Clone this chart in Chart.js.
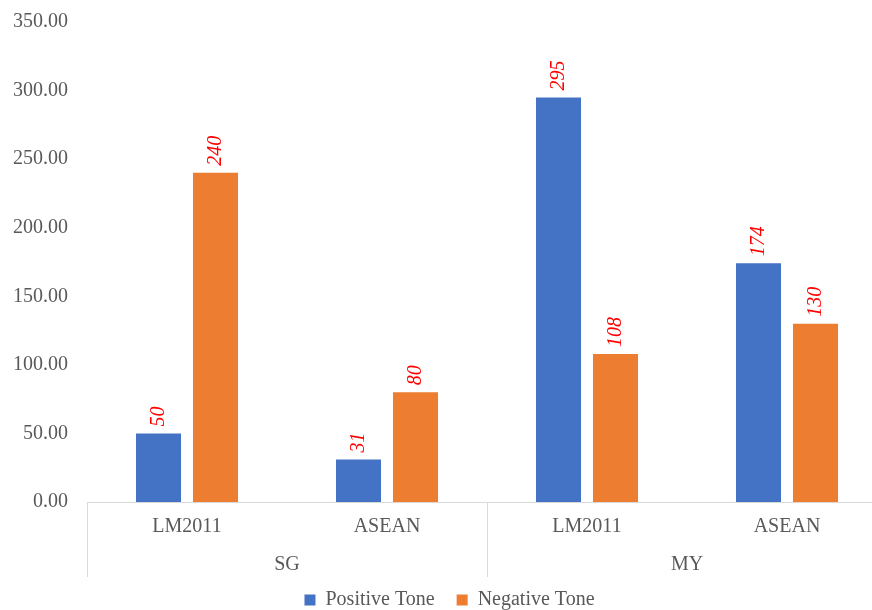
<!DOCTYPE html>
<html>
<head>
<meta charset="utf-8">
<script src="https://cdn.jsdelivr.net/npm/chart.js@4.4.1/dist/chart.umd.min.js"></script>
<style>
  html, body { margin: 0; padding: 0; background: #ffffff; overflow: hidden; }
  #wrap { width: 912px; height: 620px; position: relative; }
</style>
</head>
<body>
<div id="wrap"><canvas id="chart"></canvas></div>
<script>
// Sub-categories along the x axis, and the country groups they belong to
const categories = ['LM2011', 'ASEAN', 'LM2011', 'ASEAN'];
const groups = ['SG', 'MY'];
const groupSizes = [2, 2];

// Article counts by tone
const positiveTone = [50, 31, 295, 174];
const negativeTone = [240, 80, 108, 130];

// Y axis range
const yMin = 0;
const yMax = 350;
const yStep = 50;

const SERIF = '"Liberation Serif", "Times New Roman", serif';
const GREY = '#595959';
const LINE = '#d9d9d9';

// Rotated value labels above each bar
const valueLabels = {
  id: 'valueLabels',
  afterDatasetsDraw(chart) {
    const ctx = chart.ctx;
    ctx.save();
    ctx.fillStyle = '#ff0000';
    ctx.font = 'italic 20px ' + SERIF;
    ctx.textAlign = 'left';
    ctx.textBaseline = 'middle';
    chart.data.datasets.forEach((ds, di) => {
      const meta = chart.getDatasetMeta(di);
      meta.data.forEach((bar, i) => {
        ctx.save();
        ctx.translate(bar.x, bar.y - 7);
        ctx.rotate(-Math.PI / 2);
        ctx.fillText(String(ds.data[i]), 0, 0);
        ctx.restore();
      });
    });
    ctx.restore();
  }
};

// Separators between the country groups under the axis
const groupSeparators = {
  id: 'groupSeparators',
  afterDraw(chart) {
    const x = chart.scales.x;
    const g = chart.scales.x2;
    const ctx = chart.ctx;
    const half = (x.getPixelForValue(1) - x.getPixelForValue(0)) / 2;
    const edges = [];
    let idx = 0;
    edges.push(x.getPixelForValue(0) - half);
    groupSizes.forEach(n => {
      idx += n;
      edges.push(x.getPixelForValue(idx - 1) + half);
    });
    ctx.save();
    ctx.strokeStyle = LINE;
    ctx.lineWidth = 1;
    edges.forEach(px => {
      const xx = Math.round(px) + 0.5;
      ctx.beginPath();
      ctx.moveTo(xx, chart.chartArea.bottom);
      ctx.lineTo(xx, g.top + 38);
      ctx.stroke();
    });
    ctx.restore();
  }
};

new Chart(document.getElementById('chart'), {
  type: 'bar',
  data: {
    labels: categories,
    datasets: [
      {
        label: 'Positive Tone',
        data: positiveTone,
        backgroundColor: '#4472c4',
        borderWidth: 0,
        categoryPercentage: 0.57,
        barPercentage: 0.79
      },
      {
        label: 'Negative Tone',
        data: negativeTone,
        backgroundColor: '#ed7d31',
        borderWidth: 0,
        categoryPercentage: 0.57,
        barPercentage: 0.79
      }
    ]
  },
  options: {
    responsive: true,
    maintainAspectRatio: false,
    animation: false,
    layout: { padding: { top: 22, left: 12, right: 25, bottom: 0 } },
    scales: {
      y: {
        min: yMin,
        max: yMax,
        afterFit: s => { s.width = 75; s.paddingTop = 0; s.paddingBottom = 0; },
        ticks: {
          stepSize: yStep,
          padding: 19,
          color: GREY,
          font: { family: SERIF, size: 20 },
          callback: v => Number(v).toFixed(2)
        },
        grid: { display: false, drawTicks: false },
        border: { display: false }
      },
      x: {
        afterFit: s => { s.height = 37; },
        ticks: {
          padding: 13,
          color: GREY,
          font: { family: SERIF, size: 20 }
        },
        grid: { display: false, drawTicks: false },
        border: { display: true, color: LINE, width: 1 }
      },
      x2: {
        type: 'category',
        position: 'bottom',
        labels: groups,
        offset: true,
        afterFit: s => { s.height = 49; },
        ticks: {
          padding: 14,
          color: GREY,
          font: { family: SERIF, size: 20 }
        },
        grid: { display: false, drawTicks: false },
        border: { display: false }
      }
    },
    plugins: {
      legend: {
        position: 'bottom',
        labels: {
          boxWidth: 11,
          boxHeight: 11,
          padding: 2,
          color: GREY,
          font: { family: SERIF, size: 20 },
          generateLabels: chart => {
            const items = Chart.defaults.plugins.legend.labels.generateLabels(chart);
            // widen the space after every entry except the last
            items.forEach((it, i) => {
              if (i < items.length - 1) it.text = it.text + '\u00a0\u00a0\u00a0\u00a0';
            });
            return items;
          }
        }
      },
      tooltip: { enabled: false }
    }
  },
  plugins: [valueLabels, groupSeparators]
});
</script>
</body>
</html>
